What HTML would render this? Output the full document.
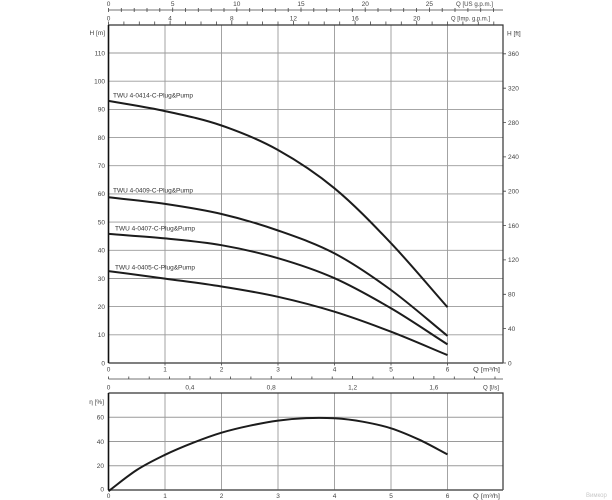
<!DOCTYPE html>
<html><head><meta charset="utf-8"><style>html,body{margin:0;padding:0;background:#fff;}svg{display:block}</style></head>
<body>
<svg width="612" height="500" viewBox="0 0 612 500" xmlns="http://www.w3.org/2000/svg" font-family="'Liberation Sans', sans-serif" font-size="6.5" fill="#444">
<rect width="612" height="500" fill="#fff"/>
<!-- main grid -->
<g stroke="#9a9a9a" stroke-width="0.9" fill="none">
<path d="M165,25V363M221.5,25V363M278,25V363M334.5,25V363M391,25V363M447.5,25V363"/>
<path d="M108.5,334.8H503M108.5,306.6H503M108.5,278.5H503M108.5,250.3H503M108.5,222.1H503M108.5,193.9H503M108.5,165.7H503M108.5,137.6H503M108.5,109.4H503M108.5,81.2H503M108.5,53H503"/>
<!-- eff grid -->
<path d="M165,393V490M221.5,393V490M278,393V490M334.5,393V490M391,393V490M447.5,393V490"/>
<path d="M108.5,465.75H503M108.5,441.5H503M108.5,417.25H503"/>
</g>
<!-- main frame -->
<g fill="none">
<path d="M108.5,25H503V363" stroke="#333" stroke-width="1.2"/>
<path d="M108.5,363H503" stroke="#555" stroke-width="1.6"/>
<path d="M108.5,25V363" stroke="#111" stroke-width="1.6"/>
<path d="M108.5,393H503V490" stroke="#333" stroke-width="1.2"/>
<path d="M108.5,490H503" stroke="#555" stroke-width="1.6"/>
<path d="M108.5,393V490" stroke="#111" stroke-width="1.6"/>
</g>
<!-- top US gpm axis -->
<g stroke="#444" stroke-width="0.8" fill="none">
<path d="M108.5,10H503"/>
<path d="M108.5,8V12M121.3,8V12M134.2,8V12M147,8V12M159.8,8V12M172.7,7.5V12M185.5,8V12M198.3,8V12M211.2,8V12M224,8V12M236.8,7.5V12M249.7,8V12M262.5,8V12M275.3,8V12M288.2,8V12M301,7.5V12M313.8,8V12M326.7,8V12M339.5,8V12M352.3,8V12M365.2,7.5V12M378,8V12M390.8,8V12M403.7,8V12M416.5,8V12M429.4,7.5V12M442.2,8V12M455,8V12M467.9,8V12M480.7,8V12M493.5,8V12"/>
<path d="M108.5,21.5V25M123.9,21.5V25M139.3,21.5V25M154.7,21.5V25M170.1,21V25M185.6,21.5V25M201,21.5V25M216.4,21.5V25M231.8,21V25M247.2,21.5V25M262.6,21.5V25M278,21.5V25M293.4,21V25M308.8,21.5V25M324.2,21.5V25M339.7,21.5V25M355.1,21V25M370.5,21.5V25M385.9,21.5V25M401.3,21.5V25M416.7,21V25M432.1,21.5V25M447.5,21.5V25M462.9,21.5V25M478.3,21.5V25M493.8,21.5V25"/>
<!-- l/s axis -->
<path d="M108.5,379H503"/>
<path d="M108.5,376.5V379M128.8,376.5V379M149.2,376.5V379M169.5,376.5V379M189.9,376V379M210.2,376.5V379M230.5,376.5V379M250.9,376.5V379M271.2,376V379M291.6,376.5V379M311.9,376.5V379M332.2,376.5V379M352.6,376V379M372.9,376.5V379M393.3,376.5V379M413.6,376.5V379M433.9,376V379M454.3,376.5V379M474.6,376.5V379M495,376.5V379"/>
<!-- bottom ticks main -->
<path d="M165,363V365.5M221.5,363V365.5M278,363V365.5M334.5,363V365.5M391,363V365.5M447.5,363V365.5"/>
<!-- right ft ticks -->
<path d="M503,363H506M503,328.6H506M503,294.3H506M503,259.9H506M503,225.6H506M503,191.2H506M503,156.9H506M503,122.5H506M503,88.2H506M503,53.8H506"/>
</g>
<!-- top labels -->
<g text-anchor="middle">
<text x="108.5" y="6">0</text><text x="172.7" y="6">5</text><text x="236.8" y="6">10</text><text x="301" y="6">15</text><text x="365.2" y="6">20</text><text x="429.4" y="6">25</text>
<text x="108.5" y="20.5">0</text><text x="170.1" y="20.5">4</text><text x="231.8" y="20.5">8</text><text x="293.4" y="20.5">12</text><text x="355.1" y="20.5">16</text><text x="416.7" y="20.5">20</text>
</g>
<text x="456" y="6" textLength="37" lengthAdjust="spacingAndGlyphs">Q [US g.p.m.]</text>
<text x="451" y="20.5" textLength="39" lengthAdjust="spacingAndGlyphs">Q [Imp. g.p.m.]</text>
<!-- left H labels -->
<g text-anchor="end">
<text x="105" y="35">H [m]</text>
<text x="105" y="55.3">110</text><text x="105" y="83.5">100</text><text x="105" y="111.7">90</text><text x="105" y="139.9">80</text><text x="105" y="168">70</text><text x="105" y="196.2">60</text><text x="105" y="224.4">50</text><text x="105" y="252.6">40</text><text x="105" y="280.8">30</text><text x="105" y="308.9">20</text><text x="105" y="337.1">10</text><text x="105" y="365.3">0</text>
<text x="104" y="404">η [%]</text>
<text x="104" y="419.5">60</text><text x="104" y="443.8">40</text><text x="104" y="468">20</text><text x="104" y="491.5">0</text>
</g>
<!-- right ft labels -->
<g>
<text x="507" y="35.5">H [ft]</text>
<text x="508" y="56.1">360</text><text x="508" y="90.5">320</text><text x="508" y="124.8">280</text><text x="508" y="159.2">240</text><text x="508" y="193.5">200</text><text x="508" y="227.9">160</text><text x="508" y="262.2">120</text><text x="508" y="296.6">80</text><text x="508" y="330.9">40</text><text x="508" y="365.3">0</text>
</g>
<!-- bottom labels -->
<g text-anchor="middle">
<text x="108.5" y="371.5">0</text><text x="165" y="371.5">1</text><text x="221.5" y="371.5">2</text><text x="278" y="371.5">3</text><text x="334.5" y="371.5">4</text><text x="391" y="371.5">5</text><text x="447.5" y="371.5">6</text>
<text x="108.5" y="389.5">0</text><text x="189.9" y="389.5">0,4</text><text x="271.2" y="389.5">0,8</text><text x="352.6" y="389.5">1,2</text><text x="433.9" y="389.5">1,6</text>
<text x="108.5" y="498">0</text><text x="165" y="498">1</text><text x="221.5" y="498">2</text><text x="278" y="498">3</text><text x="334.5" y="498">4</text><text x="391" y="498">5</text><text x="447.5" y="498">6</text>
</g>
<text x="473" y="371.5" textLength="27" lengthAdjust="spacingAndGlyphs">Q [m³/h]</text>
<text x="483" y="389.5" textLength="16" lengthAdjust="spacingAndGlyphs">Q [l/s]</text>
<text x="473" y="498" textLength="27" lengthAdjust="spacingAndGlyphs">Q [m³/h]</text>
<text x="586" y="497" fill="#c8c8c8" font-size="6">Вимкор</text>
<!-- curve labels -->
<g fill="#333">
<text x="113" y="97.3" textLength="80" lengthAdjust="spacingAndGlyphs">TWU 4-0414-C-Plug&amp;Pump</text>
<text x="113" y="192.3" textLength="80" lengthAdjust="spacingAndGlyphs">TWU 4-0409-C-Plug&amp;Pump</text>
<text x="115" y="230.6" textLength="80" lengthAdjust="spacingAndGlyphs">TWU 4-0407-C-Plug&amp;Pump</text>
<text x="115" y="269.6" textLength="80" lengthAdjust="spacingAndGlyphs">TWU 4-0405-C-Plug&amp;Pump</text>
</g>
<!-- curves -->
<g fill="none" stroke="#1c1c1c" stroke-width="2" stroke-linecap="butt">
<path d="M108.5,100.9 C127.3,104.3 146.2,107 165,111.1 C183.8,115.2 202.7,119 221.5,125.5 C240.3,132 259.2,139.5 278,150 C296.8,160.5 315.7,172.8 334.5,188.3 C353.3,203.8 372.2,223.4 391,243.2 C409.8,263 428.7,285.9 447.5,307.2"/>
<path d="M108.5,197.3 C127.3,199.5 146.2,201.1 165,203.9 C183.8,206.7 202.7,209.6 221.5,214 C240.3,218.4 259.2,223.9 278,230.5 C296.8,237.1 315.7,243.5 334.5,253.4 C353.3,263.3 372.2,276.3 391,290 C409.8,303.8 428.7,320.6 447.5,335.9"/>
<path d="M108.5,233.9 C127.3,235.4 146.2,236.5 165,238.4 C183.8,240.3 202.7,241.9 221.5,245.2 C240.3,248.5 259.2,252.7 278,258.2 C296.8,263.7 315.7,269.9 334.5,278.2 C353.3,286.6 372.2,297.3 391,308.3 C409.8,319.3 428.7,332.4 447.5,344.4"/>
<path d="M108.5,271.1 C127.3,273.6 146.2,276 165,278.6 C183.8,281.2 202.7,283.5 221.5,286.5 C240.3,289.5 259.2,292.6 278,296.8 C296.8,301 315.7,305.9 334.5,311.7 C353.3,317.5 372.2,324.5 391,331.7 C409.8,338.9 428.7,347.3 447.5,355.1"/>
<path d="M108.5,491.2 C117.9,484.1 127.3,476.1 136.75,470 C146.2,463.9 155.6,459.4 165,454.8 C174.4,450.3 183.8,446.4 193.25,442.7 C202.7,439 212.1,435.5 221.5,432.7 C230.9,429.9 240.3,427.7 249.75,425.7 C259.2,423.7 268.6,421.9 278,420.6 C287.4,419.3 296.8,418.5 306.25,418.1 C315.7,417.7 325.1,417.7 334.5,418.3 C343.9,418.9 353.3,420 362.75,421.7 C372.2,423.4 381.6,425.3 391,428.3 C400.4,431.3 409.8,435.4 419.25,439.7 C428.7,444.1 438.1,449.5 447.5,454.4"/>
</g>
</svg>
</body></html>
